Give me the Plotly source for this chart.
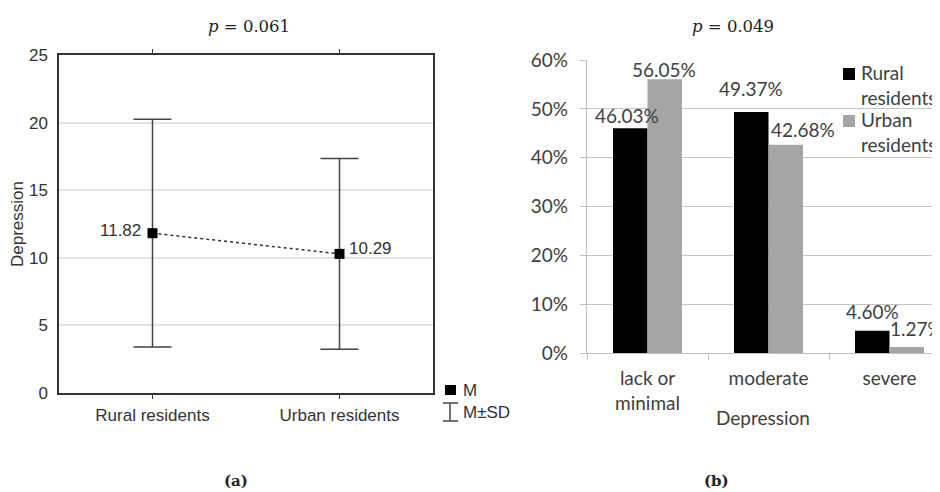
import plotly.graph_objects as go

# ---------------- data ----------------
groups = ["Rural residents", "Urban residents"]
means = [11.82, 10.29]
sds = [8.42, 7.05]

severity = ["lack or<br>minimal", "moderate", "severe"]
rural_pct = [46.03, 49.37, 4.60]
urban_pct = [56.05, 42.68, 1.27]

p_left = "0.061"
p_right = "0.049"

# ---------------- helpers ----------------
W, H = 940, 492
OFF = 8  # page body margin offset
def px(x):
    return (x - OFF) / W
def py(y):
    return 1 - (y - OFF) / H

DARK = "#333333"
SANS = "Liberation Sans, Arial, sans-serif"
CAL = "Lato, Open Sans, sans-serif"
SERIF = "DejaVu Serif, Liberation Serif, serif"
GRAY_BAR = "#a5a5a5"
TXT2 = "#404040"
LFS = 17  # left panel font size

fig = go.Figure()

# ---------------- left panel ----------------
fig.add_trace(go.Scatter(
    x=groups, y=means, mode="lines+markers",
    line=dict(color=DARK, width=1.5, dash="dot"),
    marker=dict(symbol="square", size=10, color="black"),
    error_y=dict(type="data", array=sds, visible=True, color="#444444",
                 thickness=1.5, width=19),
    xaxis="x", yaxis="y", showlegend=False, hoverinfo="x+y"))

# ---------------- right panel ----------------
fig.add_trace(go.Bar(x=severity, y=[v / 100 for v in rural_pct], name="Rural residents",
                     marker=dict(color="black", line=dict(width=0)),
                     xaxis="x2", yaxis="y2", showlegend=False))
fig.add_trace(go.Bar(x=severity, y=[v / 100 for v in urban_pct], name="Urban residents",
                     marker=dict(color=GRAY_BAR, line=dict(width=0)),
                     xaxis="x2", yaxis="y2", showlegend=False))

annotations = []

def note(**kw):
    kw.setdefault("showarrow", False)
    kw.setdefault("xanchor", "center")
    kw.setdefault("yanchor", "middle")
    annotations.append(kw)

# mean labels (left)
mean_style = [dict(xanchor="right", xshift=-10, yshift=3),
              dict(xanchor="left", xshift=7, yshift=5)]
for g, m, st in zip(groups, means, mean_style):
    note(x=g, y=m, xref="x", yref="y", text=f"{m:.2f}",
         font=dict(family=SANS, size=LFS, color=DARK), **st)

# bar value labels (right)
bar_half = 17.25
r_shift = [(-3, 13), (0, 23), (0, 19)]
u_shift = [(-1, 10), (17, 15), (10, 19)]
for cat, rv, uv, rs, us in zip(severity, rural_pct, urban_pct, r_shift, u_shift):
    note(x=cat, y=rv / 100, xref="x2", yref="y2", text=f"{rv:.2f}%",
         xshift=-bar_half + rs[0], yshift=rs[1],
         font=dict(family=CAL, size=19, color=TXT2))
    note(x=cat, y=uv / 100, xref="x2", yref="y2", text=f"{uv:.2f}%",
         xshift=bar_half + us[0], yshift=us[1],
         font=dict(family=CAL, size=19, color=TXT2))

# titles
note(x=px(249), y=py(26), xref="paper", yref="paper", text=f"<i>p</i> = {p_left}",
     font=dict(family=SERIF, size=16.5, color="#222"))
note(x=px(733), y=py(26), xref="paper", yref="paper", text=f"<i>p</i> = {p_right}",
     font=dict(family=SERIF, size=16.5, color="#222"))
# sub captions
note(x=px(236), y=py(481), xref="paper", yref="paper", text="<b>(a)</b>",
     font=dict(family=SERIF, size=15, color="#222"))
note(x=px(716), y=py(481), xref="paper", yref="paper", text="<b>(b)</b>",
     font=dict(family=SERIF, size=15, color="#222"))
# axis titles
note(x=px(18), y=py(224), xref="paper", yref="paper", text="Depression", textangle=-90,
     font=dict(family=SANS, size=LFS, color=DARK))
note(x=px(763), y=py(417), xref="paper", yref="paper", text="Depression",
     font=dict(family=CAL, size=19, color=TXT2))

# left legend
note(x=px(461), y=py(390), xref="paper", yref="paper", text="M", xanchor="left",
     font=dict(family=SANS, size=LFS, color=DARK))
note(x=px(461), y=py(412), xref="paper", yref="paper", text="M±SD", xanchor="left",
     font=dict(family=SANS, size=LFS, color=DARK))
# right legend
note(x=px(859), y=py(85), xref="paper", yref="paper", text="Rural<br>residents",
     xanchor="left", align="left", font=dict(family=CAL, size=19, color=TXT2))
note(x=px(859), y=py(132), xref="paper", yref="paper", text="Urban<br>residents",
     xanchor="left", align="left", font=dict(family=CAL, size=19, color=TXT2))

shapes = [
    # left legend: mean square
    dict(type="rect", xref="paper", yref="paper", x0=px(445), x1=px(456),
         y0=py(395), y1=py(385), fillcolor="black", line=dict(width=0)),
    # left legend: error bar icon
    dict(type="line", xref="paper", yref="paper", x0=px(450), x1=px(450),
         y0=py(403), y1=py(421), line=dict(color="#444", width=1.5)),
    dict(type="line", xref="paper", yref="paper", x0=px(443), x1=px(458),
         y0=py(403), y1=py(403), line=dict(color="#444", width=1.5)),
    dict(type="line", xref="paper", yref="paper", x0=px(443), x1=px(458),
         y0=py(421), y1=py(421), line=dict(color="#444", width=1.5)),
    # right legend squares
    dict(type="rect", xref="paper", yref="paper", x0=px(843), x1=px(855),
         y0=py(80), y1=py(68), fillcolor="black", line=dict(width=0)),
    dict(type="rect", xref="paper", yref="paper", x0=px(843), x1=px(855),
         y0=py(127), y1=py(115), fillcolor=GRAY_BAR, line=dict(width=0)),
]

# right plot: category width 121 px, plot starts at 587 and runs to figure edge
right_end = OFF + W
x2_max = -0.5 + (right_end - 587) / 121.0

fig.update_layout(
    width=W, height=H,
    margin=dict(l=0, r=0, t=0, b=0, pad=0, autoexpand=False),
    paper_bgcolor="white", plot_bgcolor="white",
    barmode="group", bargap=0.43, bargroupgap=0,
    annotations=annotations, shapes=shapes,
    showlegend=False,
    xaxis=dict(domain=[px(59), px(433)], anchor="y", type="category", automargin=False,
               range=[-0.5, 1.5], showline=True, linecolor=DARK, linewidth=1.5,
               mirror="ticks", ticks="outside", ticklen=4, tickcolor=DARK,
               tickwidth=1, showgrid=False, ticklabelstandoff=2,
               tickfont=dict(family=SANS, size=LFS, color=DARK)),
    yaxis=dict(domain=[py(393), py(55)], anchor="x", range=[0, 25], automargin=False,
               tickvals=[0, 5, 10, 15, 20, 25], showline=True, linecolor=DARK,
               linewidth=1.5, mirror=True, ticks="", showgrid=True,
               gridcolor="#e3e3e3", gridwidth=1.5, zeroline=False,
               ticklabelstandoff=6,
               tickfont=dict(family=SANS, size=LFS, color=DARK)),
    xaxis2=dict(domain=[px(587), 1.0], anchor="y2", type="category", automargin=False,
                range=[-0.5, x2_max], showline=True, linecolor="#bfbfbf",
                linewidth=1.2, ticks="outside", tickson="boundaries", ticklen=6,
                tickcolor="#bfbfbf", showgrid=False, ticklabelstandoff=8,
                tickfont=dict(family=CAL, size=19, color=TXT2)),
    yaxis2=dict(domain=[py(353.3), py(60)], anchor="x2", range=[0, 0.6], automargin=False,
                dtick=0.1, tickformat=".0%", showline=True, linecolor="#bfbfbf",
                linewidth=1.2, ticks="outside", ticklen=6, tickcolor="#bfbfbf",
                showgrid=True, gridcolor="#c4c4c4", gridwidth=1.2, zeroline=False,
                ticklabelstandoff=8,
                tickfont=dict(family=CAL, size=19, color=TXT2)),
)

fig.write_html("out.html")
